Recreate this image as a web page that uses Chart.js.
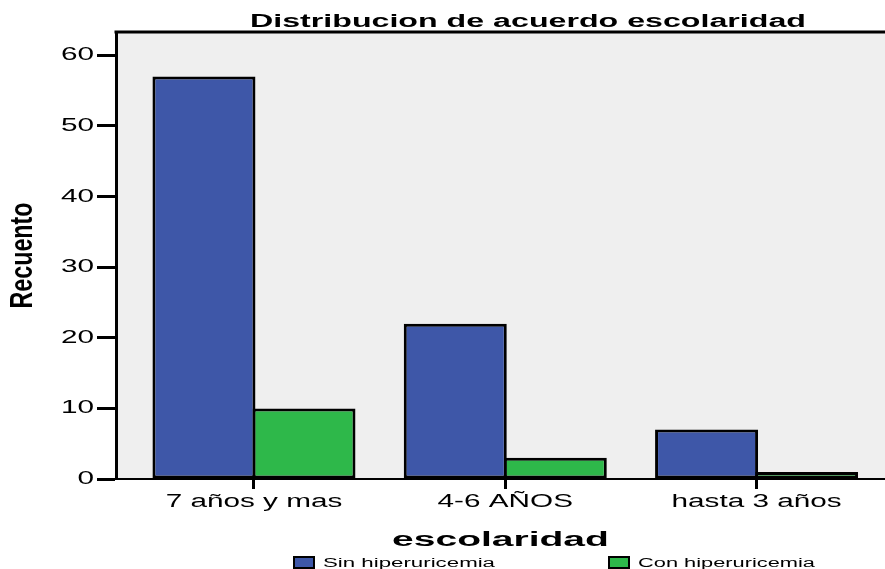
<!DOCTYPE html>
<html>
<head>
<meta charset="utf-8">
<script src="https://cdn.jsdelivr.net/npm/chart.js@4.4.1/dist/chart.umd.min.js"></script>
<style>
  html, body { margin: 0; padding: 0; background: #ffffff; }
  #wrap { width: 885px; height: 569px; position: relative; }
</style>
</head>
<body>
<div id="wrap"><canvas id="c"></canvas></div>
<script>
// ---- data ----
const categories = ['7 años y mas', '4-6 AÑOS', 'hasta 3 años'];
const seriesNames = ['Sin hiperuricemia', 'Con hiperuricemia'];
const sinHiperuricemia = [57, 22, 7];
const conHiperuricemia = [10, 3, 1];
const chartTitle = 'Distribucion de acuerdo escolaridad';
const xTitle = 'escolaridad';
const yTitle = 'Recuento';

// ---- style ----
const FONT = "'Liberation Sans', Arial, sans-serif";
const BLUE = '#3e57a8';
const GREEN = '#2eb84a';
const PLOT_BG = '#efefef';
// horizontal stretch of text (SPSS-like wide lettering), by font size in px
const stretchBySize = { '18': 1.65, '20': 1.95, '31': 0.75 };

const stretchPlugin = {
  id: 'stretchText',
  beforeDraw(chart) {
    const ctx = chart.ctx;
    if (!ctx._origFillText) {
      const orig = ctx.fillText;
      ctx._origFillText = orig;
      ctx.fillText = function (text, x, y) {
        const m = /(\d+(?:\.\d+)?)px/.exec(this.font);
        const s = m ? (stretchBySize[m[1]] || 1) : 1;
        if (s === 1) return orig.call(this, text, x, y);
        this.save();
        this.translate(x, y);
        this.scale(s, 1);
        orig.call(this, text, 0, 0);
        this.restore();
      };
    }
  }
};

const plotBgPlugin = {
  id: 'plotBg',
  beforeDraw(chart) {
    const { ctx, chartArea: a } = chart;
    ctx.save();
    ctx.fillStyle = PLOT_BG;
    ctx.fillRect(a.left, a.top, a.right - a.left, a.bottom - a.top);
    ctx.restore();
  },
  afterDraw(chart) {
    const { ctx, chartArea: a } = chart;
    ctx.save();
    ctx.strokeStyle = '#000';
    ctx.lineWidth = 3;
    ctx.beginPath();
    ctx.moveTo(a.left - 1.5, a.top);
    ctx.lineTo(a.right, a.top);
    ctx.stroke();
    ctx.restore();
  }
};

function drawStretched(ctx, text, x, y, targetWidth, font) {
  const draw = ctx._origFillText || ctx.fillText;
  ctx.save();
  ctx.font = font;
  ctx.textAlign = 'left';
  ctx.textBaseline = 'alphabetic';
  ctx.fillStyle = '#000';
  const w = ctx.measureText(text).width;
  const s = targetWidth / w;
  ctx.translate(x, y);
  ctx.scale(s, 1);
  draw.call(ctx, text, 0, 0);
  ctx.restore();
}

const titleLegendPlugin = {
  id: 'titleLegend',
  afterDraw(chart) {
    const ctx = chart.ctx;
    // chart title
    drawStretched(ctx, chartTitle, 250, 27, 556, "bold 18px " + FONT);
    // legend
    const items = [
      { color: BLUE, box: 294, text: 323, width: 172 },
      { color: GREEN, box: 609, text: 638, width: 177 }
    ];
    items.forEach((it, i) => {
      ctx.save();
      ctx.fillStyle = it.color;
      ctx.fillRect(it.box, 557, 20, 11);
      ctx.strokeStyle = '#000';
      ctx.lineWidth = 2;
      ctx.strokeRect(it.box, 557, 20, 11);
      ctx.restore();
      drawStretched(ctx, seriesNames[i], it.text, 567, it.width, "12.5px " + FONT);
    });
  }
};

const toPoints = arr => arr.map((v, i) => ({ x: i, y: v }));

new Chart(document.getElementById('c'), {
  type: 'bar',
  data: {
    datasets: [
      {
        label: seriesNames[0],
        data: toPoints(sinHiperuricemia),
        backgroundColor: BLUE,
        borderColor: '#000',
        borderWidth: 3,
        borderSkipped: false
      },
      {
        label: seriesNames[1],
        data: toPoints(conHiperuricemia),
        backgroundColor: GREEN,
        borderColor: '#000',
        borderWidth: 3,
        borderSkipped: false
      }
    ]
  },
  options: {
    responsive: true,
    maintainAspectRatio: false,
    animation: false,
    devicePixelRatio: 1,
    categoryPercentage: 0.796,
    barPercentage: 1.03,
    layout: { padding: { top: 32, right: 0, bottom: 0, left: 0 } },
    plugins: {
      legend: { display: false },
      title: { display: false },
      tooltip: { enabled: false }
    },
    scales: {
      x: {
        type: 'linear',
        offset: false,
        min: -0.549,
        max: 2.511,
        afterFit: s => { s.height = 90; },
        border: { display: true, color: '#000', width: 2 },
        grid: { offset: false, drawOnChartArea: false, drawTicks: true, tickLength: 10, tickWidth: 3, tickColor: '#000' },
        ticks: {
          stepSize: 1,
          includeBounds: false,
          autoSkip: false,
          maxRotation: 0,
          padding: 2,
          color: '#000',
          font: { family: FONT, size: 18 },
          callback: v => (categories[v] !== undefined ? categories[v] : '')
        },
        title: {
          display: true,
          text: xTitle,
          color: '#000',
          font: { family: FONT, size: 20, weight: 'bold' },
          padding: { top: 0, bottom: 17 }
        }
      },
      y: {
        min: 0,
        max: 63.3,
        afterFit: s => { s.width = 116; },
        border: { display: true, color: '#000', width: 3 },
        grid: { drawOnChartArea: false, drawTicks: true, tickLength: 19, tickWidth: 3, tickColor: '#000' },
        ticks: {
          stepSize: 10,
          includeBounds: false,
          padding: 3,
          color: '#000',
          font: { family: FONT, size: 18 }
        },
        title: {
          display: true,
          text: yTitle,
          color: '#000',
          font: { family: FONT, size: 31, weight: 'bold' },
          padding: { top: 5, bottom: 0 }
        }
      }
    }
  },
  plugins: [stretchPlugin, plotBgPlugin, titleLegendPlugin]
});
</script>
</body>
</html>
